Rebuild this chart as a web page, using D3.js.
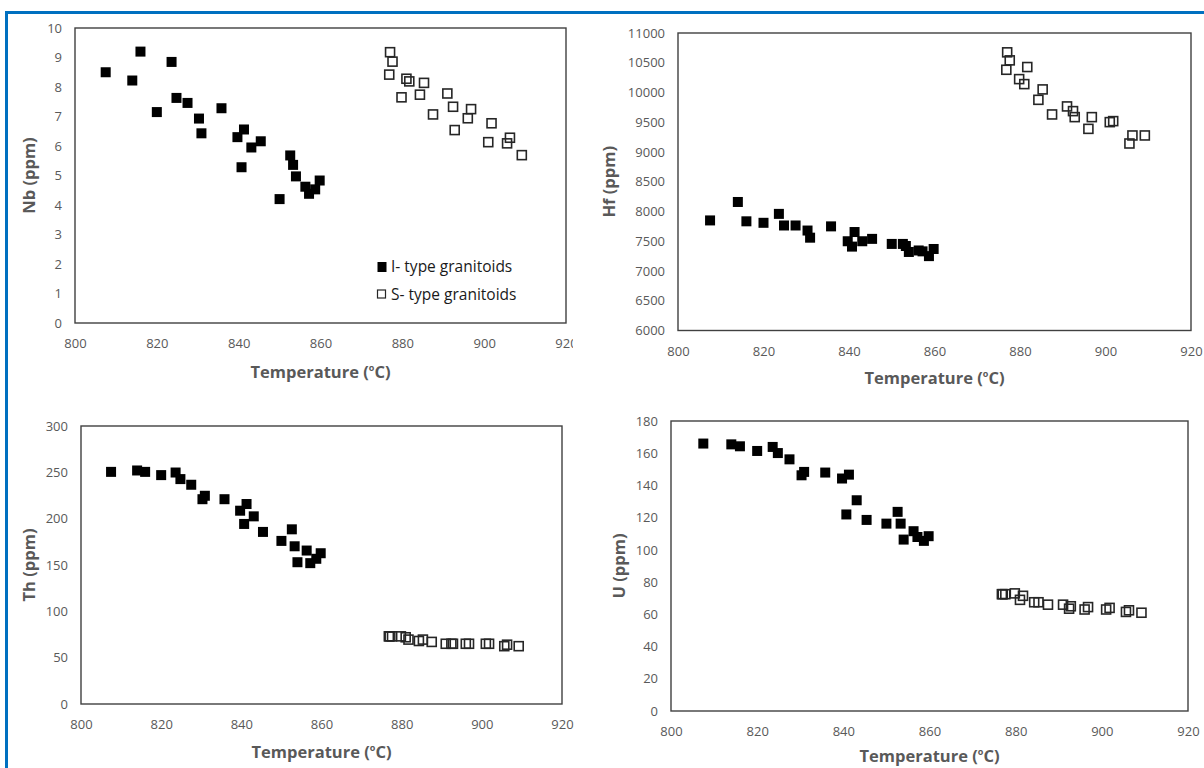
<!DOCTYPE html>
<html>
<head>
<meta charset="utf-8">
<script src="https://cdn.jsdelivr.net/npm/d3@7"></script>
<style>
body { margin: 0; background: #fff; }
svg { display: block; font-family: "Open Sans", sans-serif; }
</style>
</head>
<body>
<svg id="chart" width="1204" height="768"></svg>
<script>
// sample temperatures (zircon saturation, deg C)
var tempI = [807.5, 814, 816, 820, 823.6, 824.8, 827.5, 830.3, 830.9, 835.8, 839.7, 840.7,
             841.3, 843.1, 845.4, 850, 852.6, 853.3, 854, 856.3, 857.2, 858.7, 859.8];
var tempS = [876.8, 877, 877.6, 879.8, 881, 881.7, 884.3, 885.3, 887.5, 891, 892.4, 892.8,
             896, 896.8, 901, 901.8, 905.6, 906.3, 909.2];

// Nb (ppm)
var nbI = [8.5, 8.22, 9.2, 7.15, 8.85, 7.63, 7.46, 6.93, 6.43, 7.28, 6.3, 5.28,
           6.56, 5.95, 6.16, 4.2, 5.68, 5.36, 4.97, 4.62, 4.38, 4.53, 4.83];
var nbS = [8.42, 9.18, 8.86, 7.65, 8.28, 8.19, 7.74, 8.14, 7.07, 7.78, 7.33, 6.54,
           6.94, 7.25, 6.13, 6.77, 6.09, 6.28, 5.69];
// Hf (ppm)
var hfI = [7850, 8160, 7835, 7810, 7960, 7765, 7765, 7680, 7560, 7750, 7500, 7410,
           7655, 7500, 7540, 7455, 7455, 7420, 7320, 7345, 7330, 7250, 7370];
var hfS = [10382, 10675, 10540, 10225, 10141, 10428, 9877, 10052, 9631, 9766, 9687, 9586,
           9389, 9586, 9502, 9519, 9143, 9278, 9278];
// Th (ppm)
var thI = [250.5, 252, 250.5, 247, 249.8, 242.7, 236.6, 221, 224.7, 221, 208.6, 194.3,
           215.8, 202.5, 185.7, 176, 188.5, 170.2, 153, 165.6, 152, 156.7, 162.7];
var thS = [73, 73, 73, 73, 72, 69.5, 68, 69.5, 67, 65, 65, 65,
           65, 65, 65, 65, 62.4, 64, 62.4];
// U (ppm)
var uI = [166, 165.5, 164.3, 161.4, 163.9, 160.1, 156.2, 146.3, 148.4, 148, 144.3, 122,
          146.7, 130.8, 118.6, 116.3, 123.6, 116.3, 106.4, 111.6, 108, 105.6, 108.5];
var uS = [72.5, 72.5, 72.5, 73, 69, 71.5, 67.5, 67.5, 66, 66, 63.5, 65,
          63, 64.5, 63, 64, 61.5, 62.5, 61];

var tempTicks = [800, 820, 840, 860, 880, 900, 920];
var nbTicks = d3.range(0, 11, 1);
var hfTicks = d3.range(6000, 11001, 500);
var thTicks = d3.range(0, 301, 50);
var uTicks = d3.range(0, 181, 20);

var seriesNames = ["I- type granitoids", "S- type granitoids"];

var svg = d3.select("#chart");

// blue frame
svg.append("path")
    .attr("d", "M6.5,780 L6.5,12.5 L1210,12.5")
    .attr("fill", "none")
    .attr("stroke", "#0070c0")
    .attr("stroke-width", 3);

var panels = [
    { label: "Nb", iv: nbI, sv: nbS, ticks: nbTicks, l: 75, t: 28, r: 566, b: 323, titleX: 29, xTitleY: 372, legend: true, clip: 573 },
    { label: "Hf", iv: hfI, sv: hfS, ticks: hfTicks, l: 678, t: 33, r: 1191, b: 330.5, titleX: 609, xTitleY: 378 },
    { label: "Th", iv: thI, sv: thS, ticks: thTicks, l: 81, t: 426, r: 562, b: 704, titleX: 29, xTitleY: 752 },
    { label: "U", iv: uI, sv: uS, ticks: uTicks, l: 671, t: 421, r: 1188, b: 711, titleX: 619, xTitleY: 756 }
];

var drawPanel = function(p, i) {
    var g = svg.append("g");
    if (p.clip) {
        svg.append("clipPath").attr("id", "clip" + i)
            .append("rect").attr("x", 0).attr("y", 0).attr("width", p.clip).attr("height", 768);
        g.attr("clip-path", "url(#clip" + i + ")");
    }

    var x = d3.scaleLinear().domain([800, 920]).range([p.l, p.r]);
    var y = d3.scaleLinear().domain(d3.extent(p.ticks)).range([p.b, p.t]);

    var xa = g.append("g")
        .attr("transform", "translate(0," + p.b + ")")
        .call(d3.axisBottom(x).tickValues(tempTicks).tickFormat(d3.format("d"))
            .tickSize(0).tickPadding(16));
    var ya = g.append("g")
        .attr("transform", "translate(" + p.l + ",0)")
        .call(d3.axisLeft(y).tickValues(p.ticks).tickFormat(d3.format("d"))
            .tickSize(0).tickPadding(13));
    [xa, ya].forEach(function(a) {
        a.select(".domain").remove();
        a.selectAll("text")
            .style("font-family", "'Open Sans', sans-serif")
            .style("font-size", "13px")
            .attr("fill", "#595959");
    });

    // plot area border
    g.append("rect")
        .attr("x", p.l).attr("y", p.t)
        .attr("width", p.r - p.l).attr("height", p.b - p.t)
        .attr("fill", "none")
        .attr("stroke", "#404040")
        .attr("stroke-width", 1.4);

    // axis titles
    g.append("text")
        .attr("transform", "translate(" + p.titleX + "," + ((p.t + p.b) / 2) + ") rotate(-90)")
        .attr("text-anchor", "middle")
        .attr("dy", "0.35em")
        .style("font-size", "16.5px")
        .style("font-weight", "bold")
        .attr("fill", "#595959")
        .text(p.label + " (ppm)");

    var xt = g.append("text")
        .attr("x", (p.l + p.r) / 2)
        .attr("y", p.xTitleY)
        .attr("dy", "0.35em")
        .attr("text-anchor", "middle")
        .style("font-size", "16.5px")
        .style("font-weight", "bold")
        .attr("fill", "#595959");
    xt.append("tspan").text("Temperature (");
    xt.append("tspan").attr("dy", -7).style("font-size", "9px").text("o");
    xt.append("tspan").attr("dy", 7).text("C)");

    // S-type, open squares
    g.selectAll(".s").data(tempS).enter().append("rect")
        .attr("x", function(d) { return x(d) - 4.5; })
        .attr("y", function(d, j) { return y(p.sv[j]) - 4.5; })
        .attr("width", 9).attr("height", 9)
        .attr("fill", "none")
        .attr("stroke", "#262626")
        .attr("stroke-width", 1.6);

    // I-type, filled squares
    g.selectAll(".i").data(tempI).enter().append("rect")
        .attr("x", function(d) { return x(d) - 5; })
        .attr("y", function(d, j) { return y(p.iv[j]) - 5; })
        .attr("width", 10).attr("height", 10)
        .attr("fill", "#000");

    if (p.legend) {
        var lg = g.append("g").attr("transform", "translate(382,0)");
        seriesNames.forEach(function(name, k) {
            var ly = 267 + k * 28;
            lg.append("rect")
                .attr("x", -4.5).attr("y", ly - 5)
                .attr("width", k ? 8 : 9).attr("height", k ? 8 : 10)
                .attr("fill", k ? "none" : "#000")
                .attr("stroke", k ? "#262626" : "none")
                .attr("stroke-width", 1.2);
            lg.append("text")
                .attr("x", 9).attr("y", ly)
                .attr("dy", "0.35em")
                .style("font-size", "15.5px")
                .attr("fill", "#1a1a1a")
                .text(name);
        });
    }
};

panels.forEach(drawPanel);
</script>
</body>
</html>
